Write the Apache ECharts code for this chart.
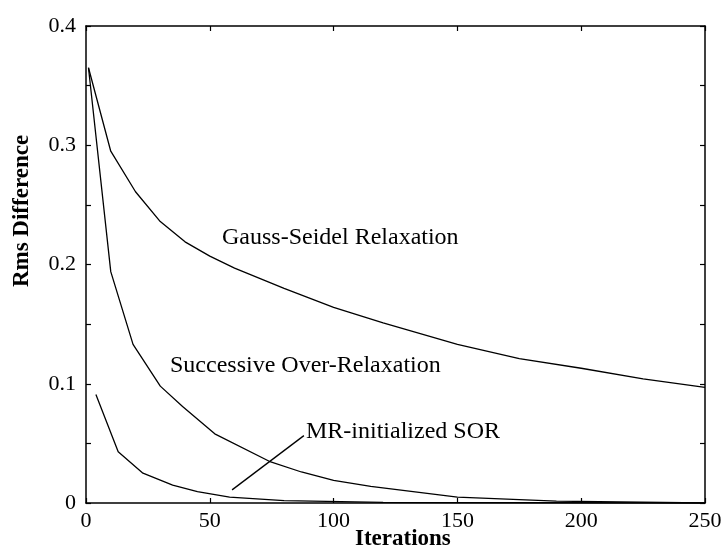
<!DOCTYPE html>
<html><head><meta charset="utf-8">
<script src="https://cdn.jsdelivr.net/npm/echarts@6/dist/echarts.min.js"></script>
<style>html,body{margin:0;padding:0;background:#fff}#c{width:727px;height:557px}</style>
</head><body><div id="c"></div>
<script>
const gaussSeidel = [[1,0.365],[10,0.295],[20,0.261],[30,0.236],[40,0.219],[50,0.207],[60,0.197],[80,0.180],[100,0.164],[120,0.151],[150,0.133],[175,0.121],[200,0.113],[225,0.104],[250,0.097]];
const sor = [[1,0.365],[10,0.194],[19,0.133],[30,0.098],[39,0.081],[52,0.058],[74,0.035],[87,0.026],[100,0.019],[115,0.014],[150,0.005],[190,0.0015],[250,0.0]];
const mrSor = [[4,0.091],[13,0.043],[23,0.025],[35,0.015],[45,0.0095],[58,0.005],[80,0.002],[120,0.0005],[250,0.0]];
const pointer = [[59,0.011],[88,0.0565]];
const xTicks = [0,50,100,150,200,250];
const yTickLabels = ['0','0.1','0.2','0.3','0.4'];
const seriesNames = ['Gauss-Seidel Relaxation','Successive Over-Relaxation','MR-initialized SOR'];
const xTitle = 'Iterations';
const yTitle = 'Rms Difference';

const font = '"Liberation Serif", "DejaVu Serif", serif';
const chart = echarts.init(document.getElementById('c'));
const axLine = {show:true,onZero:false,lineStyle:{color:'#000',width:1.5}};
const tick = {show:true,inside:true,length:5,lineStyle:{color:'#000',width:1.2}};
function yFmt(v){const k=Math.round(v*100); if(k%10!==0) return ''; return yTickLabels[k/10];}
const lineStyle = {color:'#000',width:1.3};
chart.setOption({
  animation:false,
  grid:{left:86,right:22,top:26,bottom:54},
  xAxis:[
    {type:'value',min:xTicks[0],max:xTicks[xTicks.length-1],interval:50,position:'bottom',
     axisLine:axLine,axisTick:tick,splitLine:{show:false},
     axisLabel:{color:'#000',fontFamily:font,fontSize:22,margin:7}},
    {type:'value',min:0,max:250,interval:50,position:'top',
     axisLine:axLine,axisTick:tick,axisLabel:{show:false},splitLine:{show:false}}
  ],
  yAxis:[
    {type:'value',min:0,max:0.4,interval:0.05,position:'left',
     axisLine:axLine,axisTick:tick,splitLine:{show:false},
     axisLabel:{color:'#000',fontFamily:font,fontSize:22,margin:10,formatter:yFmt}},
    {type:'value',min:0,max:0.4,interval:0.05,position:'right',
     axisLine:axLine,axisTick:tick,axisLabel:{show:false},splitLine:{show:false}}
  ],
  series:[
    {name:seriesNames[0],type:'line',data:gaussSeidel,showSymbol:false,lineStyle:lineStyle,z:3},
    {name:seriesNames[1],type:'line',data:sor,showSymbol:false,lineStyle:lineStyle,z:3},
    {name:seriesNames[2],type:'line',data:mrSor,showSymbol:false,lineStyle:lineStyle,z:3},
    {name:'pointer',type:'line',data:pointer,showSymbol:false,lineStyle:lineStyle,z:3}
  ],
  graphic:[
    {type:'text',left:222,top:226,style:{text:seriesNames[0],font:'24px '+font,fill:'#000'}},
    {type:'text',left:170,top:354,style:{text:seriesNames[1],font:'24px '+font,fill:'#000'}},
    {type:'text',left:306,top:420,style:{text:seriesNames[2],font:'24px '+font,fill:'#000'}},
    {type:'text',left:355,top:528,style:{text:xTitle,font:'bold 23px '+font,fill:'#000'}},
    {type:'text',x:22,y:211,rotation:Math.PI/2,
     style:{text:yTitle,font:'bold 23px '+font,fill:'#000',align:'center',verticalAlign:'middle'}}
  ]
});
</script></body></html>
